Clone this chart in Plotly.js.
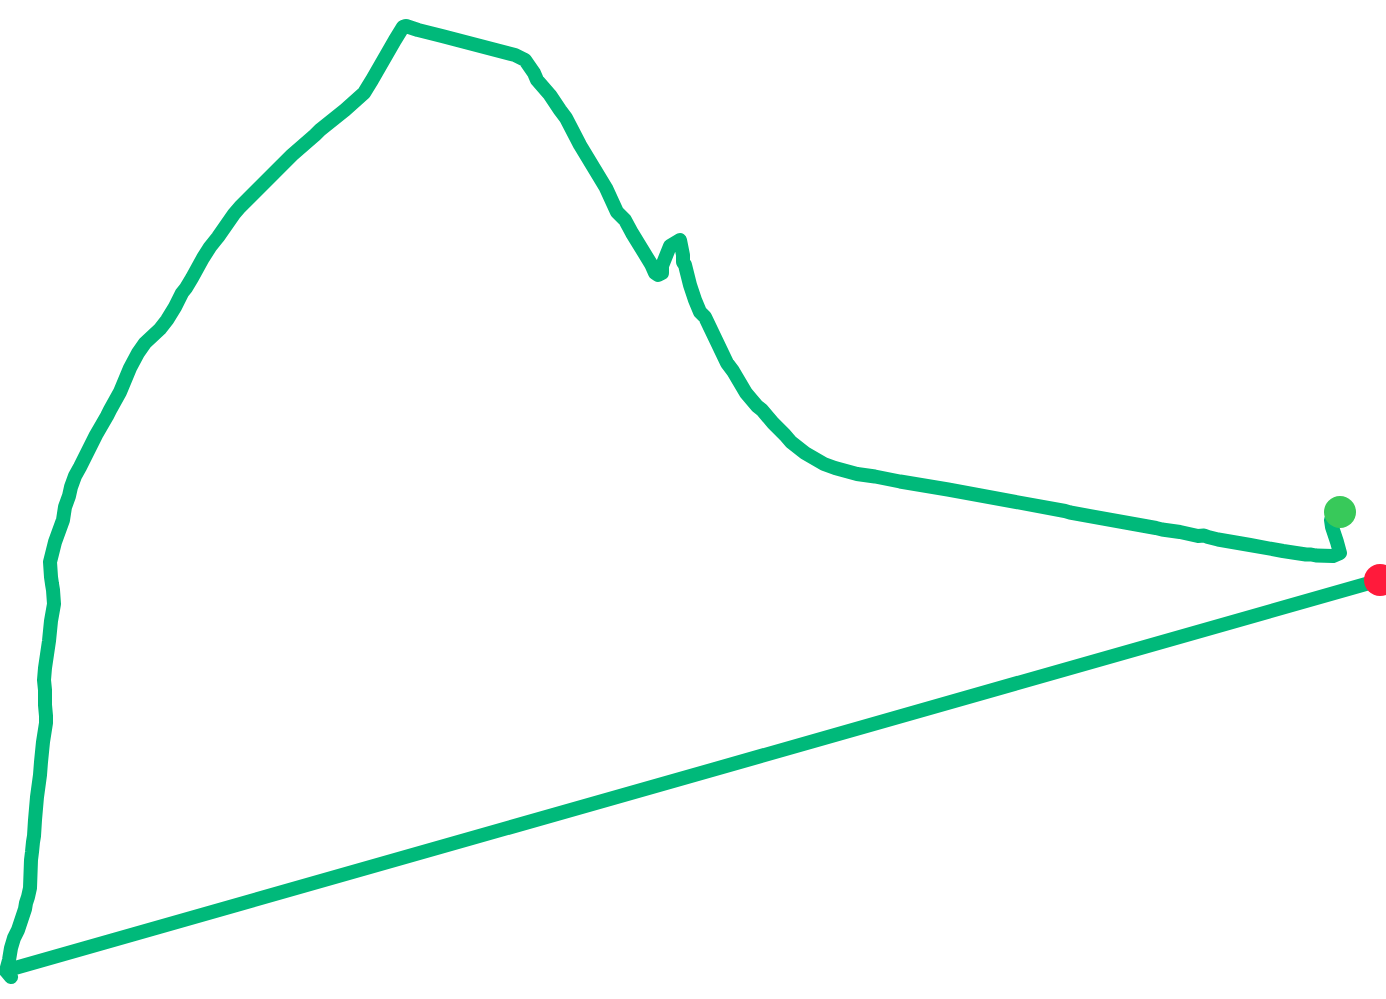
<!DOCTYPE html>
<html>
<head>
<meta charset="utf-8">
<script src="https://cdn.plot.ly/plotly-3.0.1.min.js"></script>
<style>html,body{margin:0;padding:0;background:#fff;overflow:hidden}#chart{width:1386px;height:999px}
.js-line{stroke-linejoin:round !important}</style>
</head>
<body>
<div id="chart"></div>
<script>
var routeX = [1340,1331,1332,1337,1340,1333,1316,1311,1306,1296,1283,1250,1218,1208,1204,1198,1180,1162,1156,1070,1065,948,900,875,857,835,824,805,791,785,773,762,757,746,733,727,705,700,695,690,685,683,683,680,670,662,662,658,655,651,632,625,617,606,580,566,560,550,537,534,525,515,442,430,418,406,403,395,372,364,345,320,315,292,240,234,218,210,203,192,186,182,175,167,160,145,138,130,120,110,107,96,80,75,71,69,65,63,55,50,51,52,53,54,51,49,45,44,45,45,46,46,43,41,40,37,35,34,33,32,31,30,28,26,25,18,14,11,9,6,11,8,1380];
var routeY = [512,520,527,542,553,556,555.5,554.5,554.5,553,551,545,539.5,537,535.5,536,532,529.5,528,512.5,511,489.5,481.5,476.5,474,468,464,453,442,435,423,410,406,393,371,363,317,312,300,285,265,262,255,240,246,266,273,275,273,264,233,220,212,188,145,118,110,95,80,73,60,55,36,33,30,26,27,40,80,93,110,130,135,155,207,214,237,247,258,278,288,293,307,320,329,343,353,368,392,410,416,435,467,476,487,496,507,520,542,562,577,584,590,604,621,641,668,680,690,705,716,723,742,762,775,797,820,836,842,852,860,888,897,903,909,930,938,948,960,971,977,970,580];
var startX = [1340], startY = [512];
var endX = [1380], endY = [580];

Plotly.newPlot('chart', [
  {x: routeX, y: routeY, type: 'scatter', mode: 'lines', line: {color: '#00b97a', width: 14, shape: 'linear', simplify: false}, hoverinfo: 'skip', showlegend: false},
  {x: startX, y: startY, type: 'scatter', mode: 'markers', marker: {color: '#38c95a', size: 32}, hoverinfo: 'skip', showlegend: false},
  {x: endX, y: endY, type: 'scatter', mode: 'markers', marker: {color: '#ff1a3b', size: 32}, hoverinfo: 'skip', showlegend: false}
], {
  width: 1386, height: 999,
  margin: {l: 0, r: 0, t: 0, b: 0},
  paper_bgcolor: '#fff', plot_bgcolor: '#fff',
  showlegend: false,
  xaxis: {range: [0, 1386], visible: false, fixedrange: true},
  yaxis: {range: [999, 0], visible: false, fixedrange: true}
}, {displayModeBar: false, staticPlot: true});
</script>
</body>
</html>
